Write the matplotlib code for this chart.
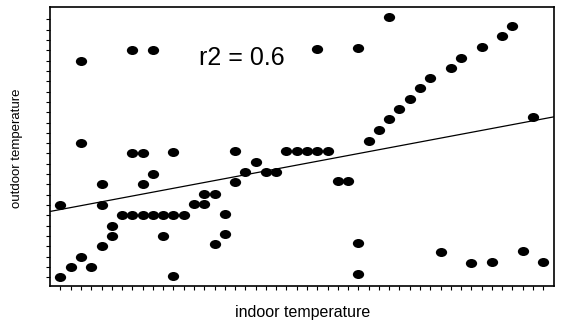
import numpy as np
import matplotlib
matplotlib.use("Agg")
import matplotlib.pyplot as plt
from matplotlib.path import Path
from matplotlib.markers import MarkerStyle
from matplotlib.transforms import Affine2D

# indoor / outdoor temperature readings
indoor = [1, 1, 2, 3, 3, 3, 4, 5, 5, 5, 6, 6,
          7, 8, 8, 8, 9, 9, 9, 10, 10, 10, 11, 11, 12, 12, 12, 13,
          14, 15, 15, 16, 16, 17, 17, 18, 18, 19, 20, 21, 22,
          23, 24, 25, 26, 26, 27, 28, 29, 30, 30, 30,
          31, 32, 33, 33, 34, 35, 36, 37, 38, 39, 40, 41, 42, 43,
          44, 45, 46, 47, 48]
outdoor = [1, 8, 2, 3, 14, 22, 2, 4, 8, 10, 5, 6,
           7, 7, 13, 23, 7, 10, 13, 7, 11, 23, 7, 5, 7, 1.1, 13.1, 7,
           8.1, 8.1, 9.1, 9.1, 4.2, 7.1, 5.2, 13.2, 10.2, 11.2, 12.2, 11.2, 11.2,
           13.2, 13.2, 13.2, 13.2, 23.1, 13.2, 10.3, 10.3, 4.3, 1.3, 23.2,
           14.2, 15.3, 16.3, 26.2, 17.3, 18.3, 19.3, 20.3, 3.4, 21.3, 22.3, 2.4, 23.3, 2.5,
           24.4, 25.4, 3.5, 16.5, 2.5]

# regression line as drawn
fit_intercept = 7.38
fit_slope = 0.187
r2_label = "r2 = 0.6"

x_ticks = list(range(1, 49))
y_ticks = list(range(1, 27))

plt.rcParams['font.family'] = ['Liberation Sans', 'DejaVu Sans']

fig = plt.figure(figsize=(5.61, 3.21), dpi=100)
ax = fig.add_axes([49.7 / 561, 35 / 321, (554 - 49.7) / 561, 279 / 321])

# slightly flattened dots like the scan
dot = MarkerStyle(Path.unit_circle().transformed(Affine2D().scale(1.0, 0.8)))
ax.scatter(indoor, outdoor, marker=dot, s=66, color='black', linewidths=0, zorder=3)

xl = np.array([-0.05, 49.05])
ax.plot(xl, fit_intercept + fit_slope * xl, color='black', linewidth=0.9, zorder=2)

ax.text(199 / 561, 1 - 58 / 321, r2_label, transform=fig.transFigure,
        fontsize=18, va='center', ha='left')

ax.set_xlim(-0.05, 49.05)
ax.set_ylim(0.15, 27.2)
ax.set_xticks(x_ticks)
ax.set_yticks(y_ticks)
ax.tick_params(direction='out', length=3, width=0.8, labelbottom=False, labelleft=False)

for spine in ax.spines.values():
    spine.set_linewidth(1.2)
    spine.set_color('black')

fig.text(303 / 561, 1 - 312 / 321, "indoor temperature", fontsize=11.5,
         ha='center', va='center')
fig.text(17 / 561, 1 - 148 / 321, "outdoor temperature", fontsize=9.5,
         rotation=90, ha='center', va='center')

fig.savefig("out.png", dpi=100)
